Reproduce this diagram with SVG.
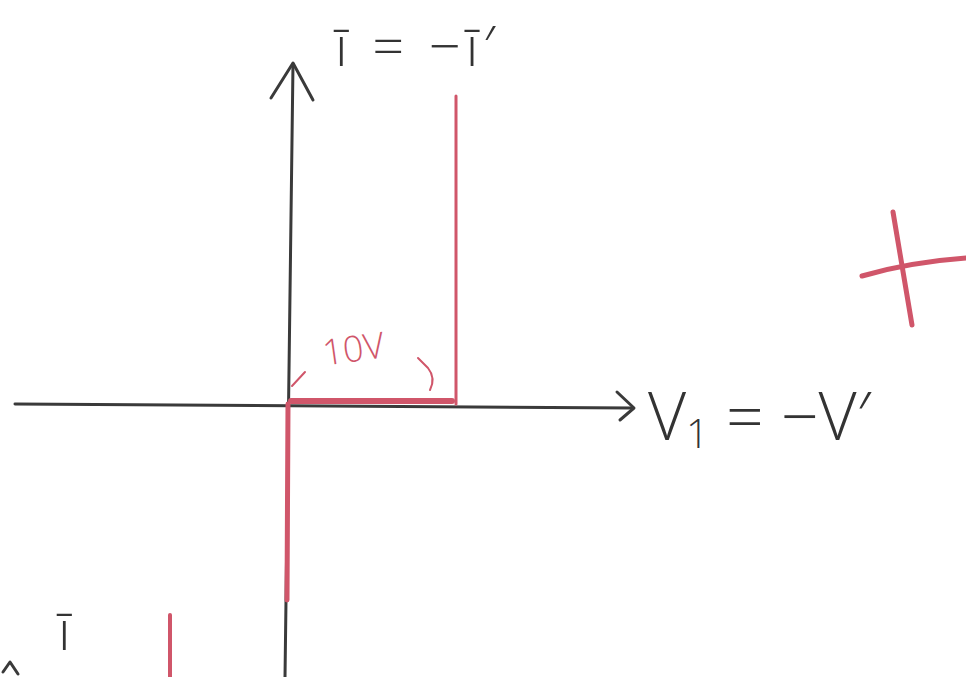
<svg xmlns="http://www.w3.org/2000/svg" width="966" height="677" viewBox="0 0 966 677">
<style>
.ink{fill:none;stroke:#3a3a3a;stroke-width:3;stroke-linecap:round;stroke-linejoin:round}
.red{fill:none;stroke:#d0566a;stroke-linecap:round;stroke-linejoin:round}
.lbl{font-family:"Open Sans","DejaVu Sans",sans-serif;font-weight:300;fill:#333}
.rlbl{font-family:"Open Sans","DejaVu Sans",sans-serif;font-weight:300;fill:#d0566a}
</style>
<rect width="966" height="677" fill="#ffffff"/>
<g id="axes">
<path class="ink" d="M15 404 L633 408"/>
<path class="ink" d="M617 392 L634 408 L620 420"/>
<path class="ink" d="M293 64 L285 677"/>
<path class="ink" d="M271 98 L293 63 L313 100"/>
<path class="ink" d="M3 672 L10 662 L18 674"/>
</g>
<g id="red-lines">
<path class="red" stroke-width="3" d="M456 96 L456 404"/>
<path class="red" stroke-width="6" stroke="#b0404e" d="M291 401 L452 401"/>
<path class="red" stroke-width="5" stroke="#a84450" d="M288 404 L287 600"/>
<path class="red" stroke-width="4" d="M170 615 L170 677"/>
<path class="red" stroke-width="5" d="M862 276 Q910 262 966 258"/>
<path class="red" stroke-width="5" d="M893 212 L912 325"/>
<path class="red" stroke-width="2" d="M292 386 L305 372"/>
<path class="red" stroke-width="2" d="M418 358 L428 368 Q436 378 430 390"/>
</g>
<g id="labels">
<text class="lbl" x="335" y="66" font-size="56" letter-spacing="5">ī = −ī′</text>
<text class="lbl" x="648" y="440" font-size="66">V<tspan font-size="40" dy="8">1</tspan><tspan dy="-8"> = −V′</tspan></text>
<text class="rlbl" x="322" y="360" font-size="36" transform="rotate(-8 365 345)">10V</text>
<text class="lbl" x="58" y="650" font-size="56">ī</text>
</g>
</svg>
